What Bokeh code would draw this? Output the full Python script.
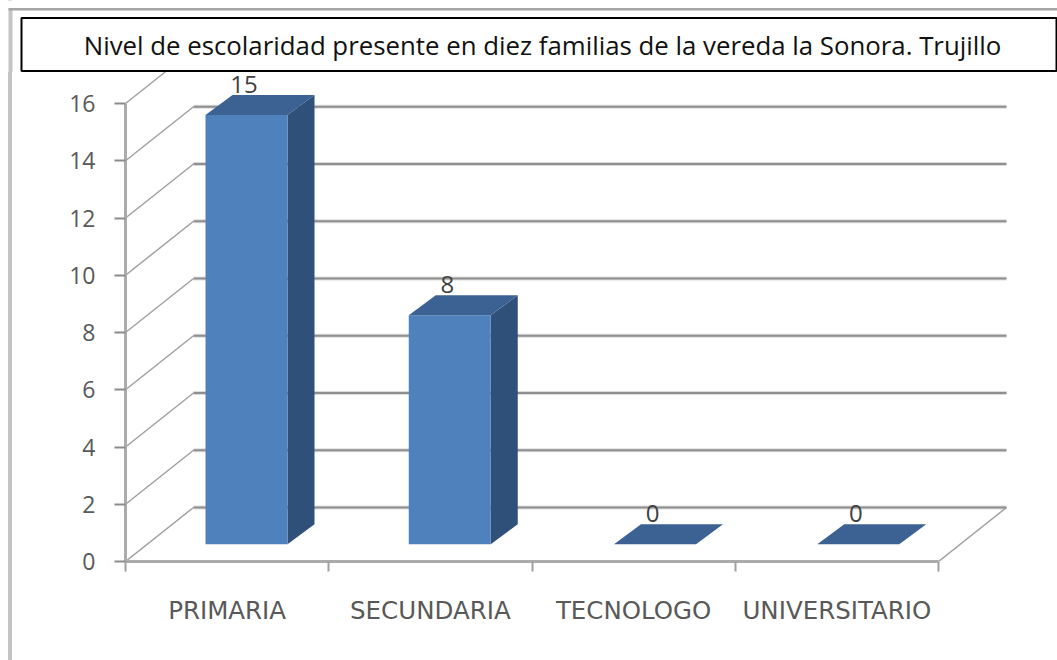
from bokeh.plotting import figure
from bokeh.layouts import column, row
from bokeh.models import Range1d, FixedTicker, ColumnDataSource, Spacer
from bokeh.core.properties import value
from bokeh.embed import file_html
from bokeh.resources import INLINE

TITLE = "Nivel de escolaridad presente en diez familias de la vereda la Sonora. Trujillo"
categories = ["PRIMARIA", "SECUNDARIA", "TECNOLOGO", "UNIVERSITARIO"]
values = [15, 8, 0, 0]
y_ticks = [0, 2, 4, 6, 8, 10, 12, 14, 16]

# layout, in picture pixels
PAGE_W, PAGE_H = 1057, 660
HEAD_H = 72                    # the title strip, laid over the top of the chart
EDGE_W = 12                    # the grey left edge strip
AX_L, AX_B = 125, 561          # position of the axis corner
PX_X, PX_Y = 203.25, 28.625    # pixels per category / per value unit

def X(px): return (px - AX_L) / PX_X
def Y(py): return (AX_B - py) / PX_Y

# 3D projection offsets, in data units
WALL_DX, WALL_DY = 68 / PX_X, 54 / PX_Y
BAR_L = [80 / PX_X, 80 / PX_X, 82 / PX_X, 82 / PX_X]
BAR_W = 82 / PX_X
BAR_DX, BAR_DY = 27 / PX_X, 20 / PX_Y
BASE = 0.6
LABEL_UP = 10.5 / PX_Y
LABEL_LEFT = 2.5 / PX_X

GREY_AX = "#ababab"
GREY_GRID = "#8f8f8f"
FRONT, SIDE, TOP = "#4f81bd", "#2f5078", "#3b6292"
FONT = "Open Sans"

# title strip, with the picture's grey corner and the boxed title
head = figure(width=PAGE_W, height=HEAD_H, output_backend="svg", toolbar_location=None,
              x_range=Range1d(0, PAGE_W), y_range=Range1d(HEAD_H, 0),
              x_axis_location=None, y_axis_location=None,
              min_border=0, outline_line_color=None, background_fill_color="white",
              border_fill_color="white", margin=(-PAGE_H, 0, 0, 0))
head.grid.visible = False
head.quad(left=[8], right=[12], top=[8], bottom=[HEAD_H], fill_color="#c4c4c4", line_color=None)
head.quad(left=[8], right=[PAGE_W], top=[7.5], bottom=[10], fill_color="#a6a6a6", line_color=None)
head.quad(left=[21], right=[1056], top=[17.5], bottom=[70.5], fill_color="white",
          line_color="black", line_width=2)
head.text([542], [44], text=[TITLE], text_align="center", text_baseline="middle",
          text_font=value(FONT), text_font_size="25.8px", text_color="#111111")

# grey left edge
edge = Spacer(width=EDGE_W, height=PAGE_H, margin=0,
              styles={"background": "linear-gradient(to right, white 8px, #c4c4c4 8px)"})

# main chart
p = figure(width=PAGE_W - EDGE_W, height=PAGE_H, output_backend="svg", toolbar_location=None,
           x_range=Range1d(0, X(PAGE_W)), y_range=Range1d(0, Y(0)), margin=0,
           min_border_left=AX_L - EDGE_W, min_border_right=0, min_border_top=0,
           min_border_bottom=PAGE_H - AX_B,
           background_fill_color="white", border_fill_color="white", outline_line_color=None)
p.grid.visible = False

# y axis
ya = p.yaxis[0]
ya.ticker = FixedTicker(ticks=y_ticks)
ya.bounds = (0, 16)
ya.axis_line_color = GREY_AX
ya.axis_line_width = 3
ya.major_tick_line_color = "#8c8c8c"
ya.major_tick_line_width = 2
ya.major_tick_out = 11
ya.major_tick_in = 0
ya.minor_tick_out = 0
ya.minor_tick_in = 0
ya.major_label_standoff = 19
ya.major_label_text_font = FONT
ya.major_label_text_font_size = "23px"
ya.major_label_text_color = "#595959"

# x axis: labels at category centres, tick marks at category edges
xa = p.xaxis[0]
xa.ticker = FixedTicker(ticks=[i + 0.5 for i in range(len(categories))],
                        minor_ticks=list(range(len(categories) + 1)))
xa.bounds = (0, len(categories))
xa.major_label_overrides = {i + 0.5: c for i, c in enumerate(categories)}
xa.axis_line_color = GREY_AX
xa.axis_line_width = 3
xa.major_tick_out = 0
xa.major_tick_in = 0
xa.minor_tick_line_color = "#a0a0a0"
xa.minor_tick_line_width = 2
xa.minor_tick_out = 10
xa.minor_tick_in = 0
xa.major_label_standoff = 24
xa.major_label_text_font = "DejaVu Sans"
xa.major_label_text_font_size = "24.5px"
xa.major_label_text_color = "#595959"

# walls: slanted floor/side lines, then the back wall lines
n = len(categories)
slant_x = [[0, WALL_DX] for _ in y_ticks]
slant_y = [[t, t + WALL_DY] for t in y_ticks]
back_x = [[WALL_DX, n + WALL_DX] for _ in y_ticks]
back_y = [[t + WALL_DY] * 2 for t in y_ticks]
p.multi_line(slant_x, slant_y, line_color="#a0a0a0", line_width=1.5)
p.multi_line(back_x, back_y, line_color="#c4c4c4", line_width=4, line_alpha=0.6)
p.multi_line(back_x, back_y, line_color=GREY_GRID, line_width=2)
p.line([n, n + WALL_DX], [0, WALL_DY], line_color="#a0a0a0", line_width=1.5)

# 3D bars
front_x, front_y, side_x, side_y, top_x, top_y = [], [], [], [], [], []
for i, v in enumerate(values):
    l = i + BAR_L[i]
    r = l + BAR_W
    b = BASE
    t = BASE + v
    front_x.append([l, r, r, l]); front_y.append([b, b, t, t])
    side_x.append([r, r + BAR_DX, r + BAR_DX, r]); side_y.append([b, b + BAR_DY, t + BAR_DY, t])
    top_x.append([l, r, r + BAR_DX, l + BAR_DX]); top_y.append([t, t, t + BAR_DY, t + BAR_DY])
p.patches(side_x, side_y, fill_color=SIDE, line_color=None)
p.patches(front_x, front_y, fill_color=FRONT, line_color=None)
p.patches(top_x, top_y, fill_color=TOP, line_color=None)

# data labels
src = ColumnDataSource(dict(
    x=[i + BAR_L[i] + BAR_W / 2 - LABEL_LEFT for i in range(n)],
    y=[BASE + v + BAR_DY + LABEL_UP for v in values],
    t=[str(v) for v in values]))
p.text("x", "y", text="t", source=src, text_align="center", text_baseline="middle",
       text_font=value(FONT), text_font_size="24px", text_color="#404040")

page = column(row(edge, p, spacing=0), head, spacing=0)
open("out.html", "w").write(file_html(page, INLINE))
